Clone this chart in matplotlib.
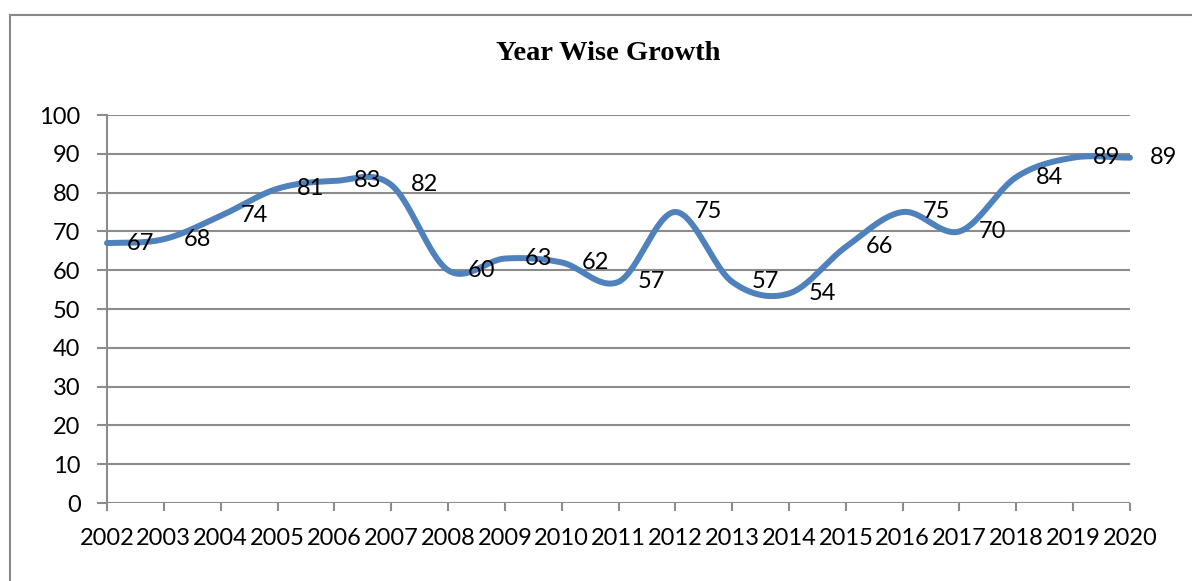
import numpy as np
import matplotlib
matplotlib.use("Agg")
import matplotlib.pyplot as plt
from matplotlib.lines import Line2D

years = [2002, 2003, 2004, 2005, 2006, 2007, 2008, 2009, 2010, 2011,
         2012, 2013, 2014, 2015, 2016, 2017, 2018, 2019, 2020]
growth = [67, 68, 74, 81, 83, 82, 60, 63, 62, 57,
          75, 57, 54, 66, 75, 70, 84, 89, 89]
title = "Year Wise Growth"
y_ticks = list(range(0, 101, 10))

FONT = ["Lato", "DejaVu Sans"]
plt.rcParams["font.family"] = FONT

W, H, DPI = 1192, 581, 100
fig = plt.figure(figsize=(W / DPI, H / DPI), dpi=DPI)
ax = fig.add_axes([107 / W, 1 - 503 / H, (1130 - 107) / W, (503 - 115) / H])

# Catmull-Rom smoothing (Excel-like smoothed line)
x = np.arange(len(years), dtype=float)
y = np.array(growth, dtype=float)
xs, ys = [], []
n = len(x)
for i in range(n - 1):
    p0 = y[i - 1] if i > 0 else y[i]
    p1, p2 = y[i], y[i + 1]
    p3 = y[i + 2] if i + 2 < n else y[i + 1]
    m1 = (p2 - p0) / 2.0
    m2 = (p3 - p1) / 2.0
    t = np.linspace(0, 1, 40)
    h00 = 2 * t**3 - 3 * t**2 + 1
    h10 = t**3 - 2 * t**2 + t
    h01 = -2 * t**3 + 3 * t**2
    h11 = t**3 - t**2
    xs.append(x[i] + t)
    ys.append(h00 * p1 + h10 * m1 + h01 * p2 + h11 * m2)
xs = np.concatenate(xs)
ys = np.concatenate(ys)

grid_c = "#8c8c8c"
ax.plot(xs, ys, color="#4f81bd", lw=4.3, solid_capstyle="round",
        solid_joinstyle="round", zorder=3, clip_on=False)

for xi, yi in zip(x, growth):
    ax.annotate(str(yi), (xi, yi), xytext=(24, 0), textcoords="offset points",
                ha="center", va="center", fontsize=17, color="black",
                annotation_clip=False, zorder=4)

ax.set_xlim(0, n - 1)
ax.set_ylim(0, 100)
ax.set_yticks(y_ticks)
ax.set_xticks(x)
ax.set_xticklabels([str(v) for v in years])
for yt in y_ticks:
    ax.axhline(yt, color=grid_c, lw=1.5, zorder=1)

for s in ["top", "right", "bottom"]:
    ax.spines[s].set_visible(False)
ax.spines["left"].set_color(grid_c)
ax.spines["left"].set_linewidth(1.5)
ax.tick_params(axis="y", length=7, width=1.5, color=grid_c, pad=12, labelsize=17)
ax.tick_params(axis="x", length=6, width=1.5, color=grid_c, pad=12, labelsize=17)

fig.text(608 / W, 1 - 53 / H, title, ha="center", va="center",
         fontsize=20.5, fontweight="bold", family="Liberation Serif")

# chart frame
fig.add_artist(Line2D([10 / W, 10 / W], [0, 1 - 15 / H], color="#888888", lw=1.5))
fig.add_artist(Line2D([10 / W, 1], [1 - 15 / H, 1 - 15 / H], color="#888888", lw=1.5))

fig.savefig("out.png", dpi=DPI)
